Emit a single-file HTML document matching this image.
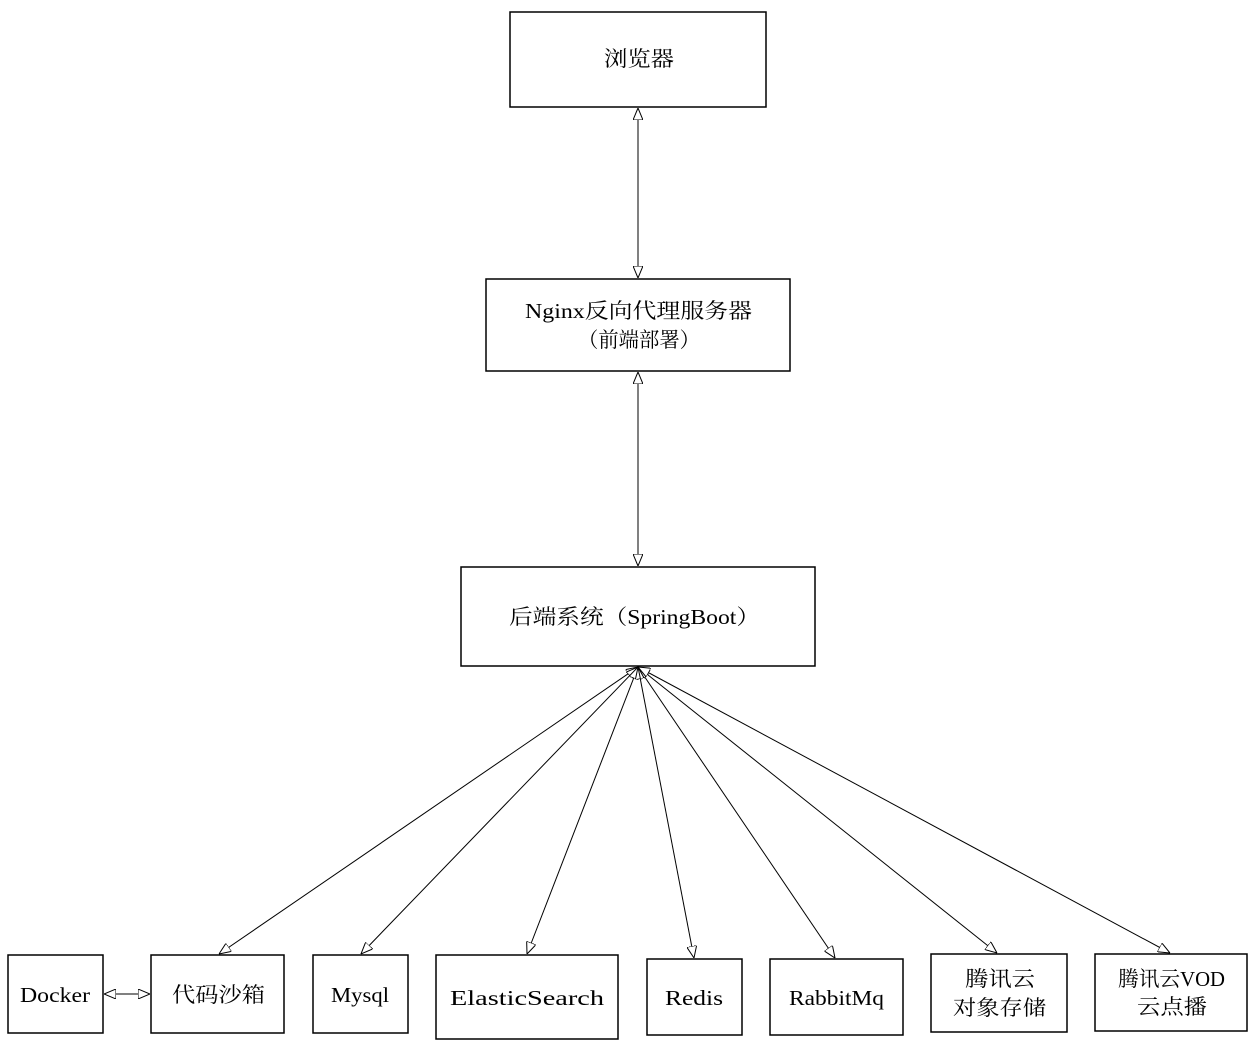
<!DOCTYPE html>
<html><head><meta charset="utf-8"><style>
html,body{margin:0;padding:0;background:#fff;}
svg text{font-family:"Liberation Serif","Noto Serif CJK SC","Noto Sans CJK SC",serif;font-size:21px;fill:#000;}
</style></head><body>
<svg width="1250" height="1046" viewBox="0 0 1250 1046" xmlns="http://www.w3.org/2000/svg">
<defs>
<marker id="a" viewBox="0 0 12 10" refX="12" refY="5" markerWidth="12" markerHeight="10" markerUnits="userSpaceOnUse" orient="auto-start-reverse">
<path d="M0,0 L12,5 L0,10 Z" fill="#fff" stroke="#000" stroke-width="1"/>
</marker>
</defs>
<g fill="none" stroke="#000" stroke-width="1.5">
<rect x="510" y="12" width="256" height="95"/>
<rect x="486" y="279" width="304" height="92"/>
<rect x="461" y="567" width="354" height="99"/>
<rect x="8" y="955" width="95" height="78"/>
<rect x="151" y="955" width="133" height="78"/>
<rect x="313" y="955" width="95" height="78"/>
<rect x="436" y="955" width="182" height="84"/>
<rect x="647" y="959" width="95" height="76"/>
<rect x="770" y="959" width="133" height="76"/>
<rect x="931" y="954" width="136" height="78"/>
<rect x="1095" y="954" width="152" height="77"/>
</g>
<g stroke="#000" stroke-width="1" fill="none">
<line x1="638" y1="108" x2="638" y2="278" marker-start="url(#a)" marker-end="url(#a)"/>
<line x1="638" y1="372" x2="638" y2="566" marker-start="url(#a)" marker-end="url(#a)"/>
<line x1="104" y1="994" x2="150" y2="994" marker-start="url(#a)" marker-end="url(#a)"/>
<line x1="638" y1="667" x2="219" y2="954" marker-start="url(#a)" marker-end="url(#a)"/>
<line x1="638" y1="667" x2="361" y2="954" marker-start="url(#a)" marker-end="url(#a)"/>
<line x1="638" y1="667" x2="527" y2="954" marker-start="url(#a)" marker-end="url(#a)"/>
<line x1="638" y1="667" x2="694" y2="958" marker-start="url(#a)" marker-end="url(#a)"/>
<line x1="638" y1="667" x2="835" y2="958" marker-start="url(#a)" marker-end="url(#a)"/>
<line x1="638" y1="667" x2="997" y2="953" marker-start="url(#a)" marker-end="url(#a)"/>
<line x1="638" y1="667" x2="1170" y2="953" marker-start="url(#a)" marker-end="url(#a)"/>
</g>
<text x="604" y="66" textLength="70" lengthAdjust="spacingAndGlyphs">浏览器</text>
<text x="525" y="318" textLength="227" lengthAdjust="spacingAndGlyphs">Nginx反向代理服务器</text>
<text x="578" y="347" textLength="122" lengthAdjust="spacingAndGlyphs">（前端部署）</text>
<text x="509" y="624" textLength="251" lengthAdjust="spacingAndGlyphs">后端系统（SpringBoot）</text>
<text x="20" y="1002" textLength="70" lengthAdjust="spacingAndGlyphs">Docker</text>
<text x="172" y="1002" textLength="93" lengthAdjust="spacingAndGlyphs">代码沙箱</text>
<text x="331" y="1002" textLength="58" lengthAdjust="spacingAndGlyphs">Mysql</text>
<text x="450" y="1005" textLength="154" lengthAdjust="spacingAndGlyphs">ElasticSearch</text>
<text x="665" y="1005" textLength="58" lengthAdjust="spacingAndGlyphs">Redis</text>
<text x="789" y="1005" textLength="95" lengthAdjust="spacingAndGlyphs">RabbitMq</text>
<text x="965" y="986" textLength="70" lengthAdjust="spacingAndGlyphs">腾讯云</text>
<text x="953" y="1015" textLength="93" lengthAdjust="spacingAndGlyphs">对象存储</text>
<text x="1118" y="986" textLength="107" lengthAdjust="spacingAndGlyphs">腾讯云VOD</text>
<text x="1137" y="1014" textLength="70" lengthAdjust="spacingAndGlyphs">云点播</text>
</svg>
</body></html>
